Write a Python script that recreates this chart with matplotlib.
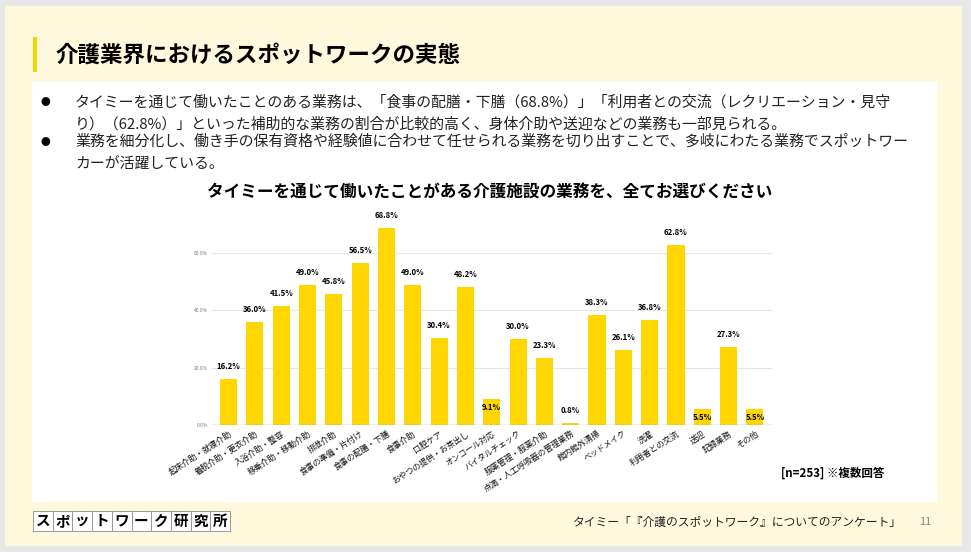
import matplotlib
matplotlib.use('Agg')
import matplotlib.pyplot as plt
from matplotlib.patches import Rectangle

plt.rcParams['font.family'] = ['Noto Sans CJK JP', 'DejaVu Sans']

# Data
categories = ['起床介助・就寝介助', '着脱介助・更衣介助', '入浴介助・整容', '移乗介助・移動介助',
              '排泄介助', '食事の準備・片付け', '食事の配膳・下膳', '食事介助', '口腔ケア',
              'おやつの提供・お茶出し', 'オンコール対応', 'バイタルチェック', '服薬管理・服薬介助',
              '点滴・人工呼吸器の管理業務', '館内館外清掃', 'ベッドメイク', '洗濯',
              '利用者との交流', '送迎', '記録業務', 'その他']
values = [16.2, 36.0, 41.5, 49.0, 45.8, 56.5, 68.8, 49.0, 30.4, 48.2, 9.1,
          30.0, 23.3, 0.8, 38.3, 26.1, 36.8, 62.8, 5.5, 27.3, 5.5]
yticks = [0, 20, 40, 60]
ytick_labels = ['0.0%', '20.0%', '40.0%', '60.0%']

title = '介護業界におけるスポットワークの実態'
bullets = [
    ['タイミーを通じて働いたことのある業務は、「食事の配膳・下膳（68.8%）」「利用者との交流（レクリエーション・見守',
     'り）（62.8%）」といった補助的な業務の割合が比較的高く、身体介助や送迎などの業務も一部見られる。'],
    ['業務を細分化し、働き手の保有資格や経験値に合わせて任せられる業務を切り出すことで、多岐にわたる業務でスポットワー',
     'カーが活躍している。'],
]
chart_title = 'タイミーを通じて働いたことがある介護施設の業務を、全てお選びください'
note = '[n=253] ※複数回答'
source = 'タイミー「『介護のスポットワーク』についてのアンケート」'
page = '11'
logo = 'スポットワーク研究所'

W, H = 971, 552
BAR = '#ffd600'

fig = plt.figure(figsize=(W / 100, H / 100), dpi=100)
fig.patch.set_facecolor('#e8e8e8')


def fx(x):
    return x / W


def fy(y):
    return 1 - y / H


def box(x0, y0, x1, y1, **kw):
    fig.add_artist(Rectangle((fx(x0), fy(y1)), fx(x1 - x0), (y1 - y0) / H,
                             transform=fig.transFigure, **kw))


# slide background, white panel, title accent
box(5, 6, 962, 546, facecolor='#fef9dc', edgecolor='none', zorder=0)
box(32, 82, 937, 502, facecolor='white', edgecolor='none', zorder=0)
box(33, 37, 37, 72, facecolor='#f5d300', edgecolor='none', zorder=1)

fig.text(fx(55), fy(55), title, fontsize=16.2, fontweight='bold', va='center', ha='left')

ys = [[102, 124], [142, 164]]
for lines, yy in zip(bullets, ys):
    fig.text(fx(45), fy(yy[0]), '●', fontsize=7, va='center', ha='center')
    for line, y in zip(lines, yy):
        fig.text(fx(75), fy(y), line, fontsize=10.75, va='center', ha='left', color='#222222')

fig.text(fx(490), fy(193), chart_title, fontsize=12, fontweight='bold', va='center', ha='center')

# chart
ax_left, ax_right, ax_bottom = 212, 772, 425
ymax = 70
px_per = (425 - 253) / 60
ax_top = ax_bottom - ymax * px_per
ax = fig.add_axes([fx(ax_left), fy(ax_bottom), fx(ax_right - ax_left), (ax_bottom - ax_top) / H])
ax.set_facecolor('none')

x = range(len(values))
ax.bar(x, values, width=0.65, color=BAR, zorder=3)
ax.set_xlim(-0.63, 20.65)
ax.set_ylim(0, ymax)

for i, v in enumerate(values):
    if 5 <= v < 10:
        ax.annotate(f'{v:.1f}%', (i, v), xytext=(0, -6), textcoords='offset points',
                    ha='center', va='center', fontsize=5.6, fontweight='bold', zorder=4)
    else:
        ax.annotate(f'{v:.1f}%', (i, v), xytext=(0, 8.8), textcoords='offset points',
                    ha='center', va='center', fontsize=5.6, fontweight='bold',
                    annotation_clip=False)

ax.set_yticks(yticks)
ax.set_yticklabels(ytick_labels, fontsize=3.5, color='#777777')
for t in yticks[1:]:
    ax.axhline(t, color='#e6e6e6', lw=0.8, zorder=1)
ax.axhline(0, color='#aaaaaa', lw=1.0, zorder=4)

ax.set_xticks(list(x))
ax.set_xticklabels(categories, rotation=33, ha='right', va='top', rotation_mode='anchor',
                   fontsize=5.9, color='#111111')
ax.tick_params(axis='both', length=0)
ax.tick_params(axis='y', pad=3)
ax.tick_params(axis='x', pad=3)
for s in ax.spines.values():
    s.set_visible(False)

fig.text(fx(781), fy(473), note, fontsize=8.3, fontweight='bold', va='center', ha='left')

# footer logo: each character in its own box
bw = (230 - 33) / len(logo)
for k, ch in enumerate(logo):
    x0 = 33 + k * bw
    box(x0, 511, x0 + bw, 531, facecolor='white', edgecolor='#999999', lw=0.7, zorder=2)
    fig.text(fx(x0 + bw / 2), fy(521), ch, fontsize=10.5, fontweight='bold',
             ha='center', va='center', zorder=3)

fig.text(fx(902), fy(522), source, fontsize=8.5, va='center', ha='right', color='#222222')
fig.text(fx(925), fy(522), page, fontsize=8, va='center', ha='center', color='#888888')

fig.savefig('out.png', dpi=100, facecolor=fig.get_facecolor())
